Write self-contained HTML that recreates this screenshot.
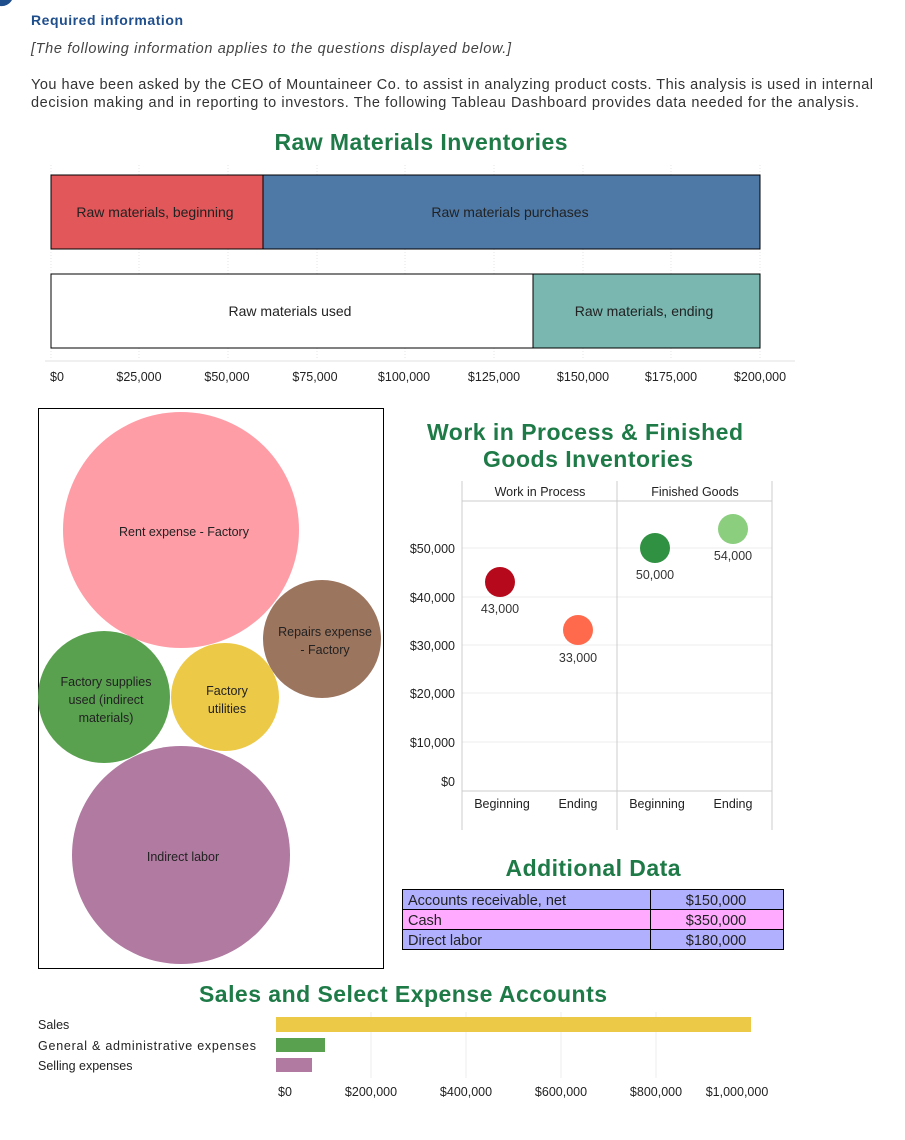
<!DOCTYPE html>
<html><head><meta charset="utf-8"><style>
body{margin:0;background:#fff;width:905px;height:1135px;overflow:hidden}
svg text{font-family:"Liberation Sans","DejaVu Sans",sans-serif}
</style></head><body>
<svg width="905" height="1135" viewBox="0 0 905 1135" xmlns="http://www.w3.org/2000/svg">
<path d="M0 0 L12 0 A12 12 0 0 1 0 6 Z" fill="#1f4e8c"/>
<text x="31" y="25" font-size="14" font-weight="bold" fill="#1f4e8c" textLength="152">Required information</text>
<text x="31" y="53" font-size="14.5" font-style="italic" fill="#444" textLength="480">[The following information applies to the questions displayed below.]</text>
<text x="31" y="89" font-size="14.5" fill="#333" textLength="842">You have been asked by the CEO of Mountaineer Co. to assist in analyzing product costs. This analysis is used in internal</text>
<text x="31" y="107" font-size="14.5" fill="#333" textLength="828">decision making and in reporting to investors. The following Tableau Dashboard provides data needed for the analysis.</text>

<text x="421" y="150" font-size="23" font-weight="bold" fill="#1e7a47" text-anchor="middle" textLength="293">Raw Materials Inventories</text>
<g stroke="#e6e6e6" stroke-dasharray="1,2">
<line x1="51" y1="165" x2="51" y2="360"/><line x1="139" y1="165" x2="139" y2="360"/><line x1="228" y1="165" x2="228" y2="360"/><line x1="317" y1="165" x2="317" y2="360"/><line x1="405" y1="165" x2="405" y2="360"/><line x1="494" y1="165" x2="494" y2="360"/><line x1="583" y1="165" x2="583" y2="360"/><line x1="671" y1="165" x2="671" y2="360"/><line x1="760" y1="165" x2="760" y2="360"/>
</g>
<line x1="45" y1="361" x2="795" y2="361" stroke="#e0e0e0"/>
<rect x="51" y="175" width="212" height="74" fill="#e1575a" stroke="#000"/>
<rect x="263" y="175" width="497" height="74" fill="#4e79a7" stroke="#000"/>
<rect x="51" y="274" width="482" height="74" fill="#fff" stroke="#000"/>
<rect x="533" y="274" width="227" height="74" fill="#79b7b0" stroke="#000"/>
<g font-size="14" fill="#222" text-anchor="middle">
<text x="155" y="217">Raw materials, beginning</text>
<text x="510" y="217">Raw materials purchases</text>
<text x="290" y="316">Raw materials used</text>
<text x="644" y="316">Raw materials, ending</text>
</g>
<g font-size="12.5" fill="#222" text-anchor="middle">
<text x="57" y="381">$0</text><text x="139" y="381">$25,000</text><text x="227" y="381">$50,000</text><text x="315" y="381">$75,000</text><text x="404" y="381">$100,000</text><text x="494" y="381">$125,000</text><text x="583" y="381">$150,000</text><text x="671" y="381">$175,000</text><text x="760" y="381">$200,000</text>
</g>

<rect x="38.5" y="408.5" width="345" height="560" fill="#fff" stroke="#000"/>
<circle cx="181" cy="530" r="118" fill="#ff9da7"/>
<circle cx="322" cy="639" r="59" fill="#9c755f"/>
<circle cx="104" cy="697" r="66" fill="#59a14f"/>
<circle cx="225" cy="697" r="54" fill="#edc948"/>
<circle cx="181" cy="855" r="109" fill="#b07aa1"/>
<g font-size="12.5" fill="#222" text-anchor="middle">
<text x="184" y="536">Rent expense - Factory</text>
<text x="325" y="636">Repairs expense</text><text x="325" y="654">- Factory</text>
<text x="106" y="686">Factory supplies</text><text x="106" y="704">used (indirect</text><text x="106" y="722">materials)</text>
<text x="227" y="695">Factory</text><text x="227" y="713">utilities</text>
<text x="183" y="861">Indirect labor</text>
</g>

<text x="585" y="440" font-size="23" font-weight="bold" fill="#1e7a47" text-anchor="middle" textLength="316">Work in Process &amp; Finished</text>
<text x="588" y="467" font-size="23" font-weight="bold" fill="#1e7a47" text-anchor="middle" textLength="210">Goods Inventories</text>
<g stroke="#ececec">
<line x1="462" y1="548" x2="772" y2="548"/><line x1="462" y1="597" x2="772" y2="597"/><line x1="462" y1="645" x2="772" y2="645"/><line x1="462" y1="693" x2="772" y2="693"/><line x1="462" y1="742" x2="772" y2="742"/>
</g>
<g stroke="#ccc">
<line x1="462" y1="481" x2="462" y2="830"/><line x1="617" y1="481" x2="617" y2="830"/><line x1="772" y1="481" x2="772" y2="830"/>
<line x1="462" y1="501" x2="772" y2="501"/><line x1="462" y1="791" x2="772" y2="791"/>
</g>
<g font-size="12.5" fill="#222" text-anchor="middle">
<text x="540" y="496">Work in Process</text><text x="695" y="496">Finished Goods</text>
</g>
<g font-size="12.5" fill="#222" text-anchor="end">
<text x="455" y="553">$50,000</text><text x="455" y="602">$40,000</text><text x="455" y="650">$30,000</text><text x="455" y="698">$20,000</text><text x="455" y="747">$10,000</text><text x="455" y="786">$0</text>
</g>
<circle cx="500" cy="582" r="15" fill="#b60a1c"/>
<circle cx="578" cy="630" r="15" fill="#ff6a4d"/>
<circle cx="655" cy="548" r="15" fill="#309143"/>
<circle cx="733" cy="529" r="15" fill="#8ace7e"/>
<g font-size="12.5" fill="#333" text-anchor="middle">
<text x="500" y="613">43,000</text><text x="578" y="662">33,000</text><text x="655" y="579">50,000</text><text x="733" y="560">54,000</text>
<text x="502" y="808" fill="#222">Beginning</text><text x="578" y="808" fill="#222">Ending</text><text x="657" y="808" fill="#222">Beginning</text><text x="733" y="808" fill="#222">Ending</text>
</g>

<text x="593" y="876" font-size="23" font-weight="bold" fill="#1e7a47" text-anchor="middle" textLength="175">Additional Data</text>
<rect x="402.5" y="889.5" width="381" height="20" fill="#b0b0ff" stroke="#000"/>
<rect x="402.5" y="909.5" width="381" height="20" fill="#ffaaff" stroke="#000"/>
<rect x="402.5" y="929.5" width="381" height="20" fill="#b0b0ff" stroke="#000"/>
<line x1="650.5" y1="889" x2="650.5" y2="950" stroke="#000"/>
<g font-size="14.5" fill="#222">
<text x="408" y="905">Accounts receivable, net</text><text x="408" y="925">Cash</text><text x="408" y="945">Direct labor</text>
</g>
<g font-size="14.5" fill="#222" text-anchor="middle">
<text x="716" y="905">$150,000</text><text x="716" y="925">$350,000</text><text x="716" y="945">$180,000</text>
</g>

<text x="403" y="1002" font-size="23" font-weight="bold" fill="#1e7a47" text-anchor="middle" textLength="408">Sales and Select Expense Accounts</text>
<g stroke="#eee"><line x1="371" y1="1012" x2="371" y2="1078"/><line x1="466" y1="1012" x2="466" y2="1078"/><line x1="561" y1="1012" x2="561" y2="1078"/><line x1="656" y1="1012" x2="656" y2="1078"/></g>
<rect x="276" y="1017" width="475" height="15" fill="#edc948"/>
<rect x="276" y="1038" width="49" height="14" fill="#59a14f"/>
<rect x="276" y="1058" width="36" height="14" fill="#b07aa1"/>
<g font-size="12.5" fill="#222">
<text x="38" y="1029">Sales</text><text x="38" y="1050" textLength="218">General &amp; administrative expenses</text><text x="38" y="1070">Selling expenses</text>
</g>
<g font-size="12.5" fill="#222" text-anchor="middle">
<text x="285" y="1096">$0</text><text x="371" y="1096">$200,000</text><text x="466" y="1096">$400,000</text><text x="561" y="1096">$600,000</text><text x="656" y="1096">$800,000</text><text x="737" y="1096">$1,000,000</text>
</g>
</svg>
</body></html>
